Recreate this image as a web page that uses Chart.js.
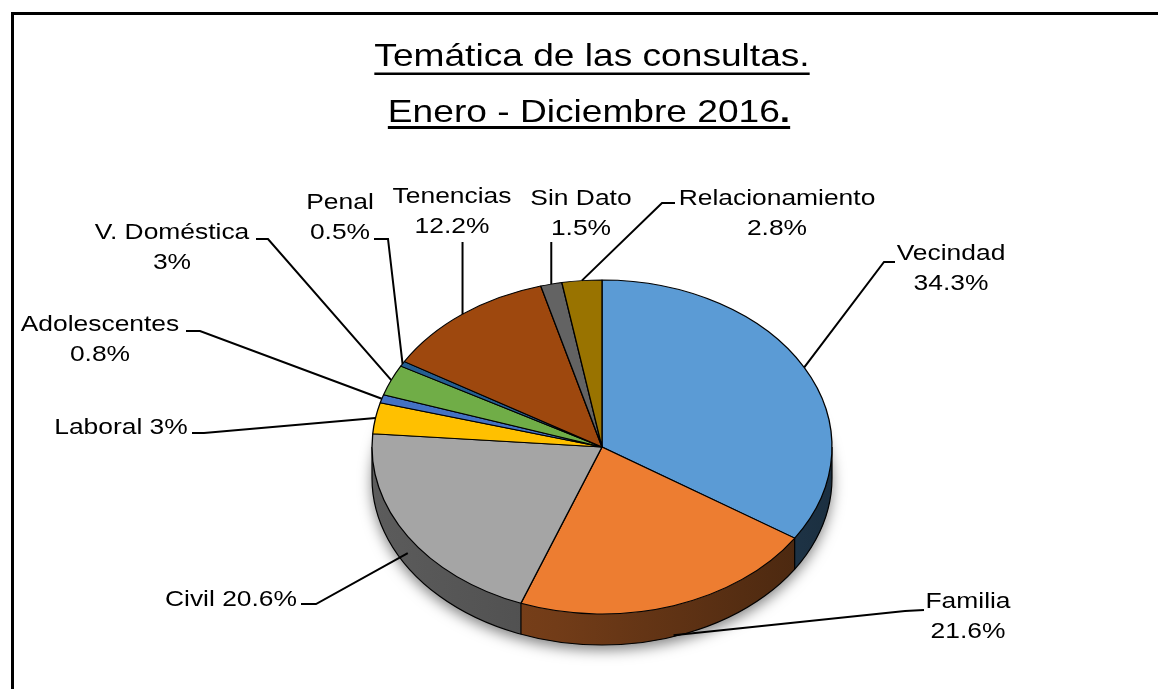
<!DOCTYPE html>
<html>
<head>
<meta charset="utf-8">
<script src="https://cdn.jsdelivr.net/npm/chart.js@4.4.1/dist/chart.umd.min.js"></script>
<style>
  html, body { margin: 0; padding: 0; background: #fff; }
  canvas { display: block; }
</style>
</head>
<body>
<canvas id="pie" width="1158" height="689"></canvas>
<script>
/* ── data ─────────────────────────────────────────────────── */
const categories = ['Vecindad', 'Familia', 'Civil', 'Laboral', 'Adolescentes',
                    'V. Doméstica', 'Penal', 'Tenencias', 'Sin Dato', 'Relacionamiento'];
const values     = [34.3, 21.6, 20.6, 3, 0.8, 3, 0.5, 12.2, 1.5, 2.8];
const colors     = ['#5B9BD5', '#ED7D31', '#A5A5A5', '#FFC000', '#4472C4',
                    '#70AD47', '#255E91', '#9E480E', '#636363', '#997300'];
const titleLines = ['Temática de las consultas.', 'Enero - Diciembre 2016'];

/* ── layout (not data) ────────────────────────────────────── */
const PIE = { cx: 602, cy: 447, rx: 230, ry: 167, depth: 31 };
const FONT = '"Liberation Sans", Arial, sans-serif';
const LBL_SX = 1.2;           // labels look horizontally stretched
/* label: x = text centre, y = first baseline, one = single line,
   stub = elbow points from text to the slice (null -> vertical) */
const labelPos = [
  { x: 951, y: 260, stub: [[895, 262], [884, 262]] },
  { x: 968, y: 608, stub: [[924, 610], [905, 611]] },
  { x: 231, y: 606, one: true, stub: [[301, 604], [316, 604]] },
  { x: 121, y: 434, one: true, stub: [[192, 433], [204, 433]] },
  { x: 100, y: 331, stub: [[186, 331], [200, 331]] },
  { x: 172, y: 239, stub: [[256, 239], [268, 239]] },
  { x: 340, y: 209, stub: [[374, 239], [388, 239]] },
  { x: 452, y: 203, stub: null, top: 242 },
  { x: 581, y: 205, stub: null, top: 242 },
  { x: 777, y: 205, stub: [[675, 203], [662, 203]] }
];

/* ── helpers ─────────────────────────────────────────────── */
function shade(hex, f) {
  const n = parseInt(hex.slice(1), 16);
  const r = Math.round(((n >> 16) & 255) * f);
  const g = Math.round(((n >> 8) & 255) * f);
  const b = Math.round((n & 255) * f);
  return `rgb(${r},${g},${b})`;
}

function wideText(ctx, text, cx, base, sx) {
  ctx.save();
  ctx.translate(cx, base);
  ctx.scale(sx, 1);
  ctx.textAlign = 'center';
  ctx.fillText(text, 0, 0);
  ctx.restore();
}

/* point on the visible rim for a slice mid angle */
function rimPoint(a) {
  const mid = (a.startAngle + a.endAngle) / 2;
  const s = Math.sin(mid);
  let y = PIE.cy + PIE.ry * s;
  if (s > 0) y += PIE.depth * s;
  return [PIE.cx + PIE.rx * Math.cos(mid), y];
}

/* ── plugin: frame, 3D side, squash, labels, title ───────── */
const pie3d = {
  id: 'pie3d',
  beforeDraw(chart) {
    const ctx = chart.ctx;
    ctx.save();
    ctx.fillStyle = '#fff';
    ctx.fillRect(0, 0, chart.width, chart.height);
    ctx.fillStyle = '#000';
    ctx.fillRect(11, 12, chart.width - 11, 3);
    ctx.fillRect(11, 12, 3, chart.height - 12);
    ctx.restore();
  },
  beforeDatasetsDraw(chart) {
    const ctx = chart.ctx;
    const arcs = chart.getDatasetMeta(0).data;
    const { cx, cy, rx, ry, depth } = PIE;

    // soft shadow under the disc
    ctx.save();
    ctx.shadowColor = 'rgba(0,0,0,0.5)';
    ctx.shadowBlur = 14;
    ctx.shadowOffsetY = 5;
    ctx.fillStyle = '#888';
    ctx.beginPath();
    ctx.ellipse(cx, cy + depth, rx, ry, 0, 0, Math.PI * 2);
    ctx.fill();
    ctx.restore();

    // side walls of the front half
    ctx.save();
    arcs.forEach((a, i) => {
      const s = Math.max(a.startAngle, 0), e = Math.min(a.endAngle, Math.PI);
      if (e <= s) return;
      const g = ctx.createLinearGradient(cx - rx, 0, cx + rx, 0);
      g.addColorStop(0, shade(colors[i], 0.56));
      g.addColorStop(0.4, shade(colors[i], 0.48));
      g.addColorStop(1, shade(colors[i], 0.3));
      ctx.beginPath();
      ctx.ellipse(cx, cy, rx, ry, 0, s, e);
      ctx.ellipse(cx, cy + depth, rx, ry, 0, e, s, true);
      ctx.closePath();
      ctx.fillStyle = g;
      ctx.fill();
    });
    ctx.strokeStyle = '#000';
    ctx.lineWidth = 1.2;
    arcs.forEach(a => {
      const t = a.startAngle;
      if (t > 0 && t < Math.PI) {
        const x = cx + rx * Math.cos(t), y = cy + ry * Math.sin(t);
        ctx.beginPath();
        ctx.moveTo(x, y);
        ctx.lineTo(x, y + depth);
        ctx.stroke();
      }
    });
    ctx.beginPath();
    ctx.moveTo(cx + rx, cy);
    ctx.lineTo(cx + rx, cy + depth);
    ctx.ellipse(cx, cy + depth, rx, ry, 0, 0, Math.PI);
    ctx.lineTo(cx - rx, cy);
    ctx.stroke();
    ctx.restore();

    // squash the flat pie into the top face
    const a0 = arcs[0];
    ctx.save();
    ctx.translate(cx, cy);
    ctx.scale(1, ry / a0.outerRadius);
    ctx.translate(-a0.x, -a0.y);
  },
  afterDatasetsDraw(chart) {
    const ctx = chart.ctx;
    ctx.restore();

    const arcs = chart.getDatasetMeta(0).data;
    ctx.save();
    ctx.strokeStyle = '#000';
    ctx.lineWidth = 2;
    ctx.fillStyle = '#000';
    ctx.font = '22px ' + FONT;
    arcs.forEach((a, i) => {
      const p = labelPos[i];
      const [ax, ay] = rimPoint(a);
      ctx.beginPath();
      if (p.stub) {
        ctx.moveTo(p.stub[0][0], p.stub[0][1]);
        ctx.lineTo(p.stub[1][0], p.stub[1][1]);
      } else {
        ctx.moveTo(ax, p.top);
      }
      ctx.lineTo(ax, ay);
      ctx.stroke();

      const pct = values[i] + '%';
      if (p.one) {
        wideText(ctx, categories[i] + ' ' + pct, p.x, p.y, LBL_SX);
      } else {
        wideText(ctx, categories[i], p.x, p.y, LBL_SX);
        wideText(ctx, pct, p.x, p.y + 30, LBL_SX);
      }
    });
    ctx.restore();
  },
  afterDraw(chart) {
    const ctx = chart.ctx;
    const sx = 1.16;
    ctx.save();
    ctx.fillStyle = '#000';
    ctx.textAlign = 'left';

    // line 1
    ctx.font = '32px ' + FONT;
    let w = ctx.measureText(titleLines[0]).width * sx;
    let x0 = 592 - w / 2;
    ctx.save(); ctx.translate(x0, 66); ctx.scale(sx, 1);
    ctx.fillText(titleLines[0], 0, 0); ctx.restore();
    ctx.fillRect(x0, 72.5, w, 2.5);

    // line 2, bold final dot
    const w1 = ctx.measureText(titleLines[1]).width * sx;
    ctx.font = 'bold 32px ' + FONT;
    const w2 = ctx.measureText('.').width * sx;
    w = w1 + w2;
    x0 = 589 - w / 2;
    ctx.font = '32px ' + FONT;
    ctx.save(); ctx.translate(x0, 122); ctx.scale(sx, 1);
    ctx.fillText(titleLines[1], 0, 0); ctx.restore();
    ctx.font = 'bold 32px ' + FONT;
    ctx.save(); ctx.translate(x0 + w1, 122); ctx.scale(sx, 1);
    ctx.fillText('.', 0, 0); ctx.restore();
    ctx.fillRect(x0, 126, w, 3);
    ctx.restore();
  }
};

/* ── chart ───────────────────────────────────────────────── */
new Chart(document.getElementById('pie'), {
  type: 'pie',
  data: {
    labels: categories,
    datasets: [{
      data: values,
      backgroundColor: colors,
      borderColor: '#000',
      borderWidth: 1.3,
      radius: PIE.rx,
      clip: false
    }]
  },
  options: {
    responsive: false,
    animation: false,
    events: [],
    plugins: {
      legend: { display: false },
      tooltip: { enabled: false },
      title: { display: false }
    }
  },
  plugins: [pie3d]
});
</script>
</body>
</html>
